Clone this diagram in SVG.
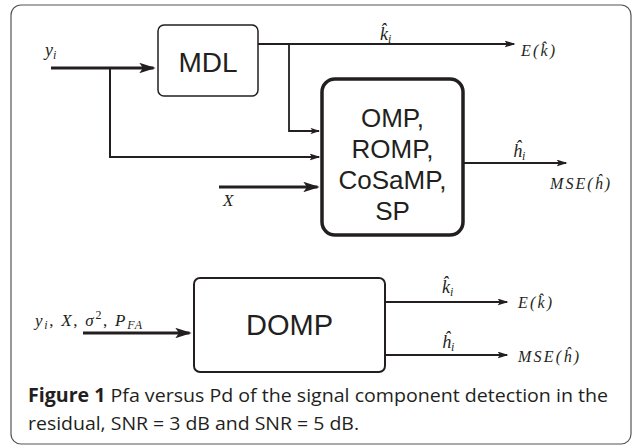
<svg xmlns="http://www.w3.org/2000/svg" width="636" height="448" viewBox="0 0 636 448">
<defs>
<style>
.box{fill:#fff;stroke:#231f20}
.lbl{font-family:"Liberation Sans",Arial,sans-serif;fill:#231f20;text-anchor:middle}
.m{font-family:"Liberation Serif","DejaVu Serif",serif;font-style:italic;fill:#231f20}
.sub{font-size:12px}
.ln{fill:none;stroke:#231f20;marker-end:url(#arr)}
.cap{font-family:"Open Sans","Noto Sans",sans-serif;font-size:19px;fill:#231f20}
</style>
<marker id="arr" viewBox="0 0 11 7" refX="9.5" refY="3.5" markerWidth="5.5" markerHeight="3.5" markerUnits="strokeWidth" orient="auto">
<path d="M0,0 L11,3.5 L0,7 L2.5,3.5 z" fill="#231f20"/>
</marker>
</defs>
<rect x="11" y="5" width="620" height="439" rx="10" fill="#fff" stroke="#555" stroke-width="1.2"/>

<g id="connectors">
<path class="ln" d="M51,68 H153.5" stroke-width="3"/>
<path class="ln" d="M110,68 V157 H319" stroke-width="2"/>
<path class="ln" d="M258,44 H514" stroke-width="2"/>
<path class="ln" d="M289,44 V131 H319" stroke-width="1.8"/>
<path class="ln" d="M219,187 H317.5" stroke-width="3"/>
<path class="ln" d="M463,163 H566" stroke-width="2"/>
<path class="ln" d="M83,333 H189.5" stroke-width="3"/>
<path class="ln" d="M385,302 H507" stroke-width="2"/>
<path class="ln" d="M385,355 H507" stroke-width="2"/>
</g>

<g id="labels">
<text class="m" x="45" y="56" font-size="18">y<tspan class="sub" dy="3">i</tspan></text>
<text class="m" x="380" y="40" font-size="18">k̂<tspan class="sub" dy="3">i</tspan></text>
<text class="m" x="521" y="56" font-size="16" textLength="34">E(k̂)</text>
<text class="m" x="513" y="157" font-size="18">ĥ<tspan class="sub" dy="3">i</tspan></text>
<text class="m" x="550" y="189" font-size="16" textLength="60">MSE(ĥ)</text>
<text class="m" x="223" y="206" font-size="17">X</text>
<text class="m" x="442" y="293" font-size="18">k̂<tspan class="sub" dy="3">i</tspan></text>
<text class="m" x="518" y="308" font-size="16" textLength="34">E(k̂)</text>
<text class="m" x="442" y="348" font-size="18">ĥ<tspan class="sub" dy="3">i</tspan></text>
<text class="m" x="518" y="362" font-size="16" textLength="61">MSE(ĥ)</text>
<text class="m" x="35" y="326" font-size="17" textLength="107">y<tspan class="sub" dy="3">i</tspan><tspan dy="-3" font-style="normal">, </tspan>X<tspan font-style="normal">, </tspan>σ<tspan class="sub" dy="-7" font-style="normal">2</tspan><tspan dy="7" font-style="normal">, </tspan>P<tspan class="sub" dy="3">FA</tspan></text>
</g>

<g id="mdl">
<rect class="box" x="158" y="25" width="100" height="71" rx="6" stroke-width="1.5"/>
<text class="lbl" x="208" y="72" font-size="28">MDL</text>
</g>

<g id="omp">
<rect class="box" x="322" y="79" width="141" height="156" rx="13" stroke-width="3.5"/>
<text class="lbl" x="392.5" y="127" font-size="26">OMP,</text>
<text class="lbl" x="392.5" y="158" font-size="26">ROMP,</text>
<text class="lbl" x="392.5" y="189" font-size="26">CoSaMP,</text>
<text class="lbl" x="392.5" y="220" font-size="26">SP</text>
</g>

<g id="domp">
<rect class="box" x="194" y="278" width="191" height="94" rx="6" stroke-width="2"/>
<text class="lbl" x="289.5" y="335" font-size="29">DOMP</text>
</g>

<g id="caption">
<text class="cap" x="28" y="402" textLength="580" lengthAdjust="spacingAndGlyphs"><tspan font-weight="bold">Figure 1</tspan> Pfa versus Pd of the signal component detection in the</text>
<text class="cap" x="28" y="430" textLength="331" lengthAdjust="spacingAndGlyphs">residual, SNR = 3 dB and SNR = 5 dB.</text>
</g>
</svg>
